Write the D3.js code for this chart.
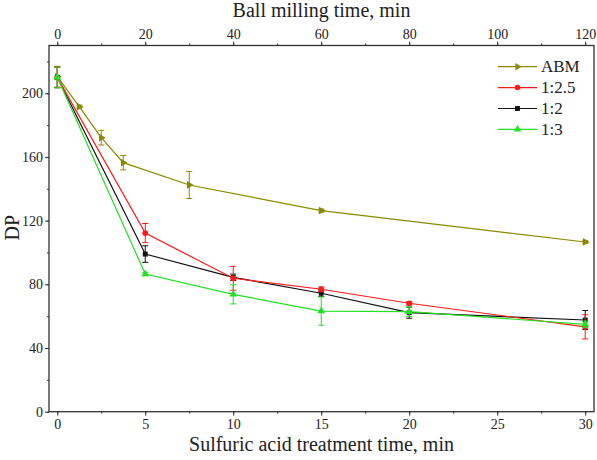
<!DOCTYPE html>
<html><head><meta charset="utf-8">
<script src="https://cdn.jsdelivr.net/npm/d3@7"></script>
<style>body{margin:0;background:#fff}svg{display:block}</style>
</head><body><div id="chart"></div>
<script>
// Data
const abmTime = [0, 5, 10, 15, 30, 60, 120];
const abmDP = [210.4, 191.6, 172.1, 156.4, 142.4, 126.3, 106.6];
const abmErr = [6.5, 1, 4.6, 4.5, 8.5, 1, 1];
const acidTime = [0, 5, 10, 15, 20, 30];
const dp125 = [210, 112.2, 83.8, 76.9, 68.1, 53.3];
const err125 = [6.5, 6, 7.5, 1.5, 1, 7.6];
const dp12 = [210, 99, 84.4, 74.4, 62.2, 57.6];
const err12 = [6.5, 5.2, 2, 2, 3.5, 6];
const dp13 = [210, 86.5, 73.7, 63.2, 62.8, 54.9];
const err13 = [6.5, 1, 6, 8.9, 3, 2];
const bottomTicks = [0, 5, 10, 15, 20, 25, 30];
const topTicks = [0, 20, 40, 60, 80, 100, 120];
const yTicks = [0, 40, 80, 120, 160, 200];
const legendLabels = ["ABM", "1:2.5", "1:2", "1:3"];

const FONT = "'Liberation Serif', 'Times New Roman', Times, 'DejaVu Serif', serif";
const W = 597, H = 460;
const m = {l: 49, r: 3, t: 45.5, b: 48.3};
const svg = d3.select("#chart").append("svg").attr("width", W).attr("height", H)
  .attr("font-family", FONT);
const x = d3.scaleLinear().domain([-0.47, 30.5]).range([m.l, W - m.r]);
const xTop = d3.scaleLinear().domain([-0.47 * 4, 30.5 * 4]).range([m.l, W - m.r]);
const y = d3.scaleLinear().domain([0, 230]).range([H - m.b, m.t]);

const colors = {abm: "#8a8a00", r: "#ff1a1a", k: "#111111", g: "#22e022"};

svg.append("rect").attr("x", m.l).attr("y", m.t).attr("width", W - m.r - m.l).attr("height", H - m.b - m.t)
  .attr("fill", "none").attr("stroke", "#333").attr("stroke-width", 1.3);

function styleAxis(g) {
  g.attr("font-family", FONT).attr("font-size", 14);
  g.select(".domain").remove();
  g.selectAll("line").attr("stroke", "#333").attr("stroke-width", 1);
  g.selectAll("text").attr("font-family", FONT).attr("font-size", 14).attr("fill", "#222");
}
const gB = svg.append("g").attr("transform", `translate(0,${H - m.b})`)
  .call(d3.axisBottom(x).tickValues(d3.range(0, 30.1, 2.5)).tickSize(2).tickFormat(""));
styleAxis(gB);
const gB2 = svg.append("g").attr("transform", `translate(0,${H - m.b})`)
  .call(d3.axisBottom(x).tickValues(bottomTicks).tickSize(4).tickPadding(3).tickFormat(d3.format("d")));
styleAxis(gB2);
const gT = svg.append("g").attr("transform", `translate(0,${m.t})`)
  .call(d3.axisTop(xTop).tickValues(d3.range(0, 121, 10)).tickSize(2).tickFormat(""));
styleAxis(gT);
const gT2 = svg.append("g").attr("transform", `translate(0,${m.t})`)
  .call(d3.axisTop(xTop).tickValues(topTicks).tickSize(4).tickPadding(3).tickFormat(d3.format("d")));
styleAxis(gT2);
const gL = svg.append("g").attr("transform", `translate(${m.l},0)`)
  .call(d3.axisLeft(y).tickValues(d3.range(0, 221, 20)).tickSize(2).tickFormat(""));
styleAxis(gL);
const gL2 = svg.append("g").attr("transform", `translate(${m.l},0)`)
  .call(d3.axisLeft(y).tickValues(yTicks).tickSize(4).tickPadding(2).tickFormat(d3.format("d")));
styleAxis(gL2);

svg.append("text").attr("x", (m.l + W - m.r) / 2).attr("y", 17).attr("text-anchor", "middle")
  .attr("font-size", 20).attr("fill", "#222").text("Ball milling time, min");
svg.append("text").attr("x", (m.l + W - m.r) / 2).attr("y", 451).attr("text-anchor", "middle")
  .attr("font-size", 20).attr("fill", "#222").text("Sulfuric acid treatment time, min");
svg.append("text").attr("transform", `translate(18.5,${(m.t + H - m.b) / 2 - 1}) rotate(-90)`).attr("text-anchor", "middle")
  .attr("font-size", 20).attr("fill", "#222").text("DP");

function symType(s) { return s === "circle" ? d3.symbolCircle : s === "square" ? d3.symbolSquare : d3.symbolTriangle; }
function series(xs, ys, es, xs_scale, color, shape) {
  const g = svg.append("g");
  const pts = xs.map((v, i) => ({x: xs_scale(v), y: y(ys[i]), e: es[i], v: ys[i]}));
  g.append("path").attr("d", d3.line().x(d => d.x).y(d => d.y)(pts))
    .attr("fill", "none").attr("stroke", color).attr("stroke-width", 1.2);
  pts.forEach(p => {
    const y1 = y(p.v + p.e), y2 = y(p.v - p.e);
    g.append("line").attr("x1", p.x).attr("x2", p.x).attr("y1", y1).attr("y2", y2).attr("stroke", color).attr("stroke-width", 1);
    [y1, y2].forEach(yy => g.append("line").attr("x1", p.x - 3).attr("x2", p.x + 3).attr("y1", yy).attr("y2", yy).attr("stroke", color).attr("stroke-width", 1));
  });
  g.selectAll(".mk").data(pts).enter().append("path")
    .attr("transform", d => `translate(${d.x},${d.y})` + (shape === "right" ? " rotate(90)" : ""))
    .attr("d", d3.symbol().type(symType(shape)).size(shape === "circle" ? 26 : shape === "square" ? 24 : 26))
    .attr("fill", color);
}
series(abmTime, abmDP, abmErr, xTop, colors.abm, "right");
series(acidTime, dp12, err12, x, colors.k, "square");
series(acidTime, dp125, err125, x, colors.r, "circle");
series(acidTime, dp13, err13, x, colors.g, "up");

const legColors = [colors.abm, colors.r, colors.k, colors.g];
const legShapes = ["right", "circle", "square", "up"];
legendLabels.forEach((lab, i) => {
  const yy = 66.7 + i * 20.9;
  const g = svg.append("g");
  g.append("line").attr("x1", 498).attr("x2", 537).attr("y1", yy).attr("y2", yy).attr("stroke", legColors[i]).attr("stroke-width", 1.2);
  const s = legShapes[i];
  g.append("path").attr("transform", `translate(517.5,${yy})` + (s === "right" ? " rotate(90)" : ""))
    .attr("d", d3.symbol().type(symType(s)).size(24)).attr("fill", legColors[i]);
  g.append("text").attr("x", 541).attr("y", yy + 5.5).attr("font-size", 17).attr("fill", "#222").text(lab);
});
</script></body></html>
